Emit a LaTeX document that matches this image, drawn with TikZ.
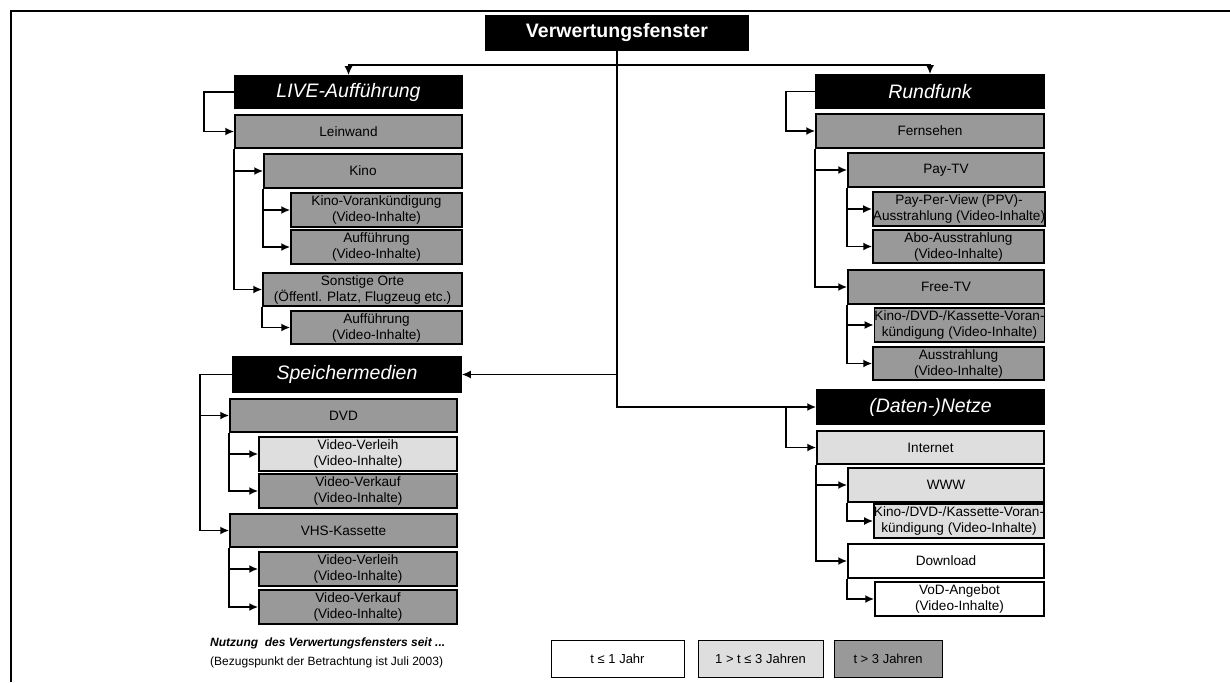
\documentclass[tikz,border=0pt]{standalone}
\usepackage{fontspec}
\setmainfont{Liberation Sans}
\usetikzlibrary{arrows.meta}

\definecolor{dunkel}{gray}{0.6}
\definecolor{hell}{gray}{0.87}

\begin{document}
\begin{tikzpicture}[
    x=1pt, y=-1pt,
    box/.style={draw, line width=1.5pt, minimum height=34pt, inner sep=0pt, align=center,
        font=\fontsize{13.6}{16}\selectfont},
    head/.style={box, fill=black, text=white, font=\fontsize{19.5}{22}\selectfont\itshape},
    dark/.style={box, fill=dunkel},
    light/.style={box, fill=hell},
    plain/.style={box, fill=white},
    key/.style={line width=1pt, minimum height=37pt, font=\fontsize{13}{15}\selectfont},
    >={Latex[length=9pt,width=8pt]}, line width=1.8pt
]
\useasboundingbox (0,0) rectangle (1230,682);
\draw[line width=2.5pt] (11,682) -- (11,11) -- (1230,11);

\node[head, font=\fontsize{19.5}{22}\selectfont\bfseries, minimum width=262pt, minimum height=35pt] (verw) at (617,33) {Verwertungsfenster};

\node[head, minimum width=227pt, minimum height=32pt] (live) at (348.5,92) {LIVE-Aufführung};
\node[dark, minimum width=227pt, minimum height=33pt] (leinwand) at (348.5,131.5) {Leinwand};
\node[dark, minimum width=198pt] (kino) at (363,171) {Kino};
\node[dark, minimum width=171pt] (kinovor) at (376.5,210) {Kino-Vorankündigung\\(Video-Inhalte)};
\node[dark, minimum width=171pt] (auff1) at (376.5,247) {Aufführung\\(Video-Inhalte)};
\node[dark, minimum width=199pt, minimum height=33pt] (sonst) at (362.5,289.5) {Sonstige Orte\\(Öffentl. Platz, Flugzeug etc.)};
\node[dark, minimum width=171pt, minimum height=33pt] (auff2) at (376.5,327.5) {Aufführung\\(Video-Inhalte)};

\node[head, minimum width=228pt, minimum height=35pt] (speicher) at (347,374.5) {Speichermedien};
\node[dark, minimum width=227pt, minimum height=33pt] (dvd) at (343.5,415.5) {DVD};
\node[light, minimum width=198pt] (dverleih) at (358,454) {Video-Verleih\\(Video-Inhalte)};
\node[dark, minimum width=198pt] (dverkauf) at (358,491) {Video-Verkauf\\(Video-Inhalte)};
\node[dark, minimum width=227pt, minimum height=33pt] (vhs) at (343.5,530.5) {VHS-Kassette};
\node[dark, minimum width=198pt] (vverleih) at (358,569) {Video-Verleih\\(Video-Inhalte)};
\node[dark, minimum width=198pt] (vverkauf) at (358,607) {Video-Verkauf\\(Video-Inhalte)};

\node[head, minimum width=228pt, minimum height=33pt] (rundfunk) at (930,91.5) {Rundfunk};
\node[dark, minimum width=228pt] (fernsehen) at (930,131) {Fernsehen};
\node[dark, minimum width=196pt] (paytv) at (946,170) {Pay-TV};
\node[dark, minimum width=170pt] (ppv) at (959,209) {Pay-Per-View (PPV)-\\Ausstrahlung (Video-Inhalte)};
\node[dark, minimum width=171pt, minimum height=33pt] (abo) at (958.5,246.5) {Abo-Ausstrahlung\\(Video-Inhalte)};
\node[dark, minimum width=196pt] (freetv) at (946,287) {Free-TV};
\node[dark, minimum width=169pt] (fkino) at (959.5,325) {Kino-/DVD-/Kassette-Voran-\\kündigung (Video-Inhalte)};
\node[dark, minimum width=171pt, minimum height=33pt] (fausstr) at (958.5,363.5) {Ausstrahlung\\(Video-Inhalte)};

\node[head, minimum width=227pt] (netze) at (930.5,407) {(Daten-)Netze};
\node[light, minimum width=227pt, minimum height=33pt] (internet) at (930.5,447.5) {Internet};
\node[light, minimum width=196pt] (www) at (946,485) {WWW};
\node[light, minimum width=170pt] (wkino) at (959,521) {Kino-/DVD-/Kassette-Voran-\\kündigung (Video-Inhalte)};
\node[plain, minimum width=196pt] (download) at (946,561) {Download};
\node[plain, minimum width=169pt] (vod) at (959.5,599) {VoD-Angebot\\(Video-Inhalte)};

\coordinate (top) at (617,65);
\draw[->] (verw.south) |- (netze.west);
\draw[->] (verw.south |- speicher.east) -- (speicher.east);
\draw[->] (top) -| (live.north);
\draw[->] (top) -| (rundfunk.north);

\draw[->] (live.west) -- ++(-30,0) |- (leinwand.west);
\draw[->] (leinwand.south west) |- (kino.west);
\draw[->] (leinwand.south west) |- (sonst.west);
\draw[->] (kino.south west) |- (kinovor.west);
\draw[->] (kino.south west) |- (auff1.west);
\draw[->] (sonst.south west) |- (auff2.west);

\draw[->] (speicher.west) -- ++(-32,0) |- (dvd.west);
\draw[->] (speicher.west) -- ++(-32,0) |- (vhs.west);
\draw[->] (dvd.south west) |- (dverleih.west);
\draw[->] (dvd.south west) |- (dverkauf.west);
\draw[->] (vhs.south west) |- (vverleih.west);
\draw[->] (vhs.south west) |- (vverkauf.west);

\draw[->] (rundfunk.west) -- ++(-29,0) |- (fernsehen.west);
\draw[->] (fernsehen.south west) |- (paytv.west);
\draw[->] (fernsehen.south west) |- (freetv.west);
\draw[->] (paytv.south west) |- (ppv.west);
\draw[->] (paytv.south west) |- (abo.west);
\draw[->] (freetv.south west) |- (fkino.west);
\draw[->] (freetv.south west) |- (fausstr.west);

\draw[->] ([xshift=-30pt]netze.west) |- (internet.west);
\draw[->] (internet.south west) |- (www.west);
\draw[->] (internet.south west) |- (download.west);
\draw[->] (www.south west) |- (wkino.west);
\draw[->] (download.south west) |- (vod.west);

\node[anchor=west, font=\fontsize{12}{14}\selectfont\bfseries\itshape] (leg1) at (206,643) {Nutzung\ \ des Verwertungsfensters seit ...};
\node[anchor=west, font=\fontsize{12}{14}\selectfont] (leg2) at (206,662) {(Bezugspunkt der Betrachtung ist Juli 2003)};
\node[plain, key, minimum width=133pt] (k1) at (617.5,658.5) {t ≤ 1 Jahr};
\node[light, key, minimum width=125pt] (k2) at (760.5,658.5) {1 > t ≤ 3 Jahren};
\node[dark, key, minimum width=108pt] (k3) at (888,658.5) {t > 3 Jahren};
\end{tikzpicture}
\end{document}
